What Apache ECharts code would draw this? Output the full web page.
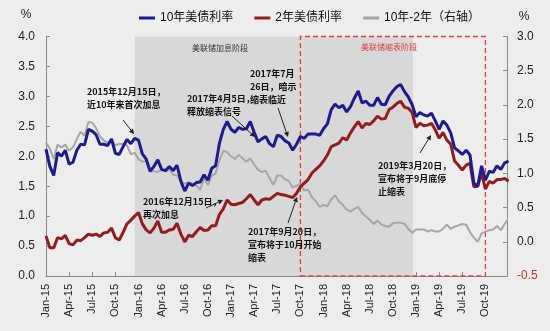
<!DOCTYPE html>
<html><head><meta charset="utf-8">
<script src="https://cdn.jsdelivr.net/npm/echarts@6/dist/echarts.min.js"></script>
<style>html,body{margin:0;padding:0;background:#ededed}#c{width:550px;height:331px}</style>
</head><body><div id="c"></div>
<script>
// x axis tick labels (one per quarter, months 0,3,6,...)
const tickLabels = ['Jan-15','Apr-15','Jul-15','Oct-15','Jan-16','Apr-16','Jul-16','Oct-16','Jan-17','Apr-17','Jul-17','Oct-17','Jan-18','Apr-18','Jul-18','Oct-18','Jan-19','Apr-19','Jul-19','Oct-19'];
// samples every half month from Jan 2015
const stepMonths = 0.5;
const tenYear = [
 2.12,1.83,1.68,2.06,2.00,2.10,1.87,1.90,2.10,2.20,2.19,2.45,2.42,2.36,2.20,2.20,2.18,2.29,2.05,2.03,2.16,2.28,2.21,2.30,
 2.27,2.04,1.95,1.75,1.83,1.94,1.78,1.76,1.83,1.76,1.85,1.58,1.42,1.55,1.51,1.56,1.57,1.69,1.60,1.80,1.84,2.22,2.45,2.58,
 2.45,2.40,2.48,2.45,2.46,2.58,2.40,2.24,2.29,2.33,2.21,2.16,2.35,2.33,2.26,2.22,2.10,2.20,2.33,2.30,2.37,2.37,2.37,2.35,
 2.46,2.54,2.78,2.87,2.81,2.85,2.74,2.83,2.97,3.09,2.89,2.92,2.85,2.85,2.98,2.87,2.86,3.00,3.09,3.16,3.20,3.08,2.99,2.86,
 2.66,2.73,2.69,2.67,2.72,2.59,2.45,2.59,2.52,2.39,2.14,2.09,2.03,2.10,2.02,1.55,1.50,1.84,1.60,1.75,1.73,1.84,1.78,1.89,1.92];
const twoYear = [
 0.67,0.47,0.47,0.64,0.62,0.68,0.54,0.52,0.60,0.59,0.64,0.70,0.68,0.70,0.66,0.72,0.73,0.80,0.64,0.60,0.73,0.87,0.93,1.00,
 1.06,0.87,0.77,0.72,0.80,0.92,0.73,0.73,0.77,0.78,0.88,0.70,0.57,0.68,0.66,0.74,0.81,0.76,0.77,0.84,0.84,1.03,1.12,1.27,
 1.20,1.19,1.21,1.23,1.29,1.36,1.27,1.19,1.27,1.29,1.28,1.33,1.38,1.36,1.35,1.33,1.31,1.38,1.49,1.55,1.61,1.72,1.78,1.84,
 1.92,2.02,2.16,2.19,2.22,2.31,2.27,2.39,2.49,2.58,2.47,2.55,2.53,2.59,2.67,2.62,2.63,2.78,2.82,2.88,2.92,2.82,2.80,2.73,
 2.48,2.55,2.51,2.52,2.55,2.44,2.30,2.40,2.27,2.20,1.92,1.85,1.77,1.85,1.88,1.49,1.50,1.72,1.45,1.58,1.55,1.61,1.61,1.63,1.58];
const spread = [
 1.45,1.36,1.21,1.42,1.38,1.42,1.33,1.38,1.50,1.61,1.55,1.75,1.74,1.66,1.54,1.48,1.45,1.49,1.41,1.43,1.43,1.41,1.28,1.30,
 1.21,1.17,1.18,1.03,1.03,1.02,1.05,1.03,1.06,0.98,0.97,0.88,0.85,0.87,0.85,0.82,0.76,0.93,0.83,0.96,1.00,1.19,1.33,1.31,
 1.25,1.21,1.27,1.22,1.17,1.22,1.13,1.05,1.02,1.04,0.93,0.83,0.97,0.97,0.91,0.89,0.79,0.82,0.84,0.75,0.76,0.65,0.59,0.51,
 0.54,0.52,0.62,0.68,0.59,0.54,0.47,0.44,0.48,0.51,0.42,0.37,0.32,0.26,0.31,0.25,0.23,0.22,0.27,0.28,0.28,0.26,0.19,0.13,
 0.18,0.18,0.18,0.15,0.17,0.15,0.15,0.19,0.25,0.19,0.22,0.24,0.26,0.25,0.14,0.06,0.00,0.12,0.15,0.17,0.18,0.23,0.17,0.26,0.34];
// phases (months since Jan 2015)
const hikePhase = [11.5, 47.6];
const qtPhase = [33, 57];
const seriesNames = ['10年美债利率','2年美债利率','10年-2年（右轴）'];

const pairs = arr => arr.map((v,i)=>[i*stepMonths, v]);
const chart = echarts.init(document.getElementById('c'), null, {renderer:'canvas'});
const latin = 'Liberation Sans, Arial, Noto Sans CJK SC';
const cjk = 'Noto Sans CJK SC, sans-serif';

function arrow(x1,y1,x2,y2){
  const a = Math.atan2(y2-y1, x2-x1), L=5, W=2.6;
  const bx = x2 - L*Math.cos(a), by = y2 - L*Math.sin(a);
  const px = -Math.sin(a)*W, py = Math.cos(a)*W;
  return [
    {type:'line', shape:{x1,y1,x2:bx,y2:by}, style:{stroke:'#222', lineWidth:1}, z:100},
    {type:'polygon', shape:{points:[[x2,y2],[bx+px,by+py],[bx-px,by-py]]}, style:{fill:'#222'}, z:100}
  ];
}
function note(x, y, text){
  return {type:'text', x, y, z:100, style:{text, fill:'#111', font:'bold 9px '+cjk, lineHeight:13, verticalAlign:'top', align:'left'}};
}
const graphics = [
  {type:'text', x:26, y:15, style:{text:'%', fill:'#222', font:'12px '+latin, align:'center', verticalAlign:'middle'}},
  {type:'text', x:524, y:17, style:{text:'%', fill:'#222', font:'12px '+latin, align:'center', verticalAlign:'middle'}},
  {type:'text', x:192, y:48, z:100, style:{text:'美联储加息阶段', fill:'#333', font:'8px '+cjk, verticalAlign:'middle'}},
  {type:'text', x:361, y:47, z:100, style:{text:'美联储缩表阶段', fill:'#e03c3c', font:'8px '+cjk, verticalAlign:'middle'}},
  note(87, 85.5, '2015年12月15日，\n近10年来首次加息'),
  note(143, 195, '2016年12月15日，\n再次加息'),
  note(187, 92.5, '2017年4月5日，\n释放缩表信号'),
  note(250, 67.5, '2017年7月\n26日，暗示\n缩表临近'),
  note(248, 225.5, '2017年9月20日，\n宣布将于10月开始\n缩表'),
  note(378, 159.5, '2019年3月20日，\n宣布将于9月底停\n止缩表'),
  ...arrow(123,120,134,134),
  ...arrow(206,208,223,200),
  ...arrow(232,116,255,137),
  ...arrow(278,108,288,137),
  ...arrow(288,223,297,197),
  ...arrow(420,153,431,135)
];

chart.setOption({
  backgroundColor:'#ededed',
  animation:false,
  legend:{
    left:134, top:7, itemWidth:16, itemHeight:3, itemGap:21, icon:'rect',
    data:seriesNames,
    textStyle:{fontSize:12, color:'#111', fontFamily:latin}
  },
  grid:{left:46, right:43, top:36.5, bottom:55},
  xAxis:{
    type:'value', min:0, max:59.8, interval:3,
    axisLine:{lineStyle:{color:'#888'}},
    axisTick:{inside:true, length:4, lineStyle:{color:'#888'}},
    splitLine:{show:false},
    axisLabel:{rotate:90, margin:8, fontSize:11, color:'#222', fontFamily:latin,
      formatter:v=>{const k=Math.round(v/3); return (Math.abs(v-k*3)<1e-6 && k<tickLabels.length)?tickLabels[k]:'';}}
  },
  yAxis:[
    {type:'value', min:0, max:4, interval:0.5, position:'left',
     axisLine:{show:true, lineStyle:{color:'#888'}},
     axisTick:{show:true, inside:true, length:4, lineStyle:{color:'#888'}},
     splitLine:{show:false},
     axisLabel:{margin:11, fontSize:12, color:'#222', fontFamily:latin, formatter:v=>v.toFixed(1)}},
    {type:'value', min:-0.5, max:3, interval:0.5, position:'right',
     axisLine:{show:true, lineStyle:{color:'#888'}},
     axisTick:{show:true, inside:true, length:4, lineStyle:{color:'#888'}},
     splitLine:{show:false},
     axisLabel:{margin:10, fontSize:12, fontFamily:latin, formatter:v=>v.toFixed(1),
       color:(v)=> (Number(v)<0 ? '#d03030' : '#222')}}
  ],
  series:[
    {name:seriesNames[2], type:'line', yAxisIndex:1, z:1, showSymbol:false, symbol:'none',
     lineStyle:{width:2, color:'#a6a6a6'}, itemStyle:{color:'#a6a6a6'},
     data:pairs(spread),
     markArea:{silent:true, itemStyle:{color:'#d8d8d8'}, label:{show:false},
       data:[[{xAxis:hikePhase[0]},{xAxis:hikePhase[1]}]]}},
    {name:seriesNames[1], type:'line', z:2, showSymbol:false, symbol:'none',
     lineStyle:{width:3, color:'#921c1f'}, itemStyle:{color:'#921c1f'},
     data:pairs(twoYear)},
    {name:seriesNames[0], type:'line', z:3, showSymbol:false, symbol:'none',
     lineStyle:{width:3, color:'#1d1b8e'}, itemStyle:{color:'#1d1b8e'},
     data:pairs(tenYear),
     markArea:{silent:true, label:{show:false},
       itemStyle:{color:'rgba(0,0,0,0)', borderColor:'#e0403a', borderWidth:1.3, borderType:[5,3]},
       data:[[{xAxis:qtPhase[0]},{xAxis:qtPhase[1]}]]}}
  ],
  graphic:graphics
});
</script>
</body></html>
